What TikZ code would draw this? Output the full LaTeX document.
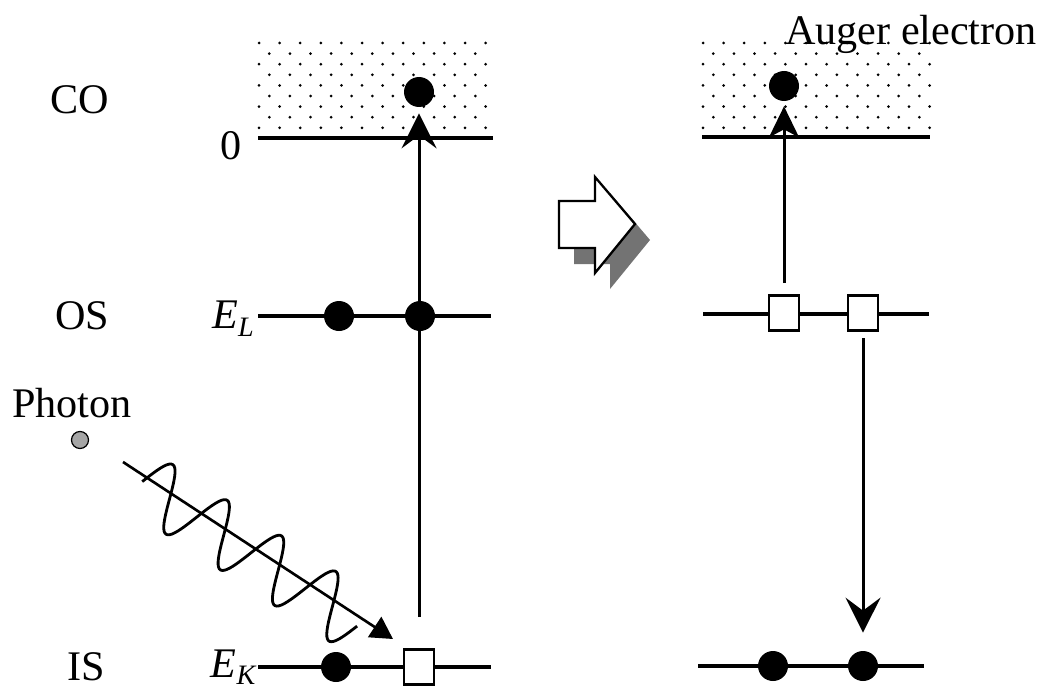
\documentclass[tikz,border=0pt]{standalone}
\usepackage{fontspec}
\setmainfont{Liberation Serif}
\usetikzlibrary{arrows.meta, positioning}

\begin{document}
\begin{tikzpicture}[
    x=0.2mm, y=-0.2mm,
    level/.style={line width=2pt},
    elec/.style={circle,fill=black,inner sep=0pt,minimum size=6mm},
    hole/.style={rectangle,draw=black,line width=1.6pt,fill=white,inner sep=0pt,
                 minimum width=6mm,minimum height=7mm},
    lbl/.style={font=\fontsize{24}{28}\selectfont,inner sep=0pt,anchor=base},
    elbl/.style={font=\fontsize{24}{28}\selectfont,inner sep=0pt,anchor=base east},
    arr/.style={-{Stealth[length=7mm,width=7mm,inset=2.6mm]},line width=1.7pt},
    arrs/.style={-{Stealth[length=6.2mm,width=6mm,inset=1.6mm]},line width=1.7pt}
  ]
  \useasboundingbox (0,0) rectangle (1054,688);

  % continuum (dotted band above 0)
  \foreach \dx in {0,444}{
    \foreach \r in {0,2,4,6,8}
      \foreach \i in {0,...,11}
        \fill (259+\dx+20.6*\i,43+10.6*\r) circle[radius=0.3mm];
    \foreach \r in {1,3,5,7}
      \foreach \i in {0,...,10}
        \fill (269.3+\dx+20.6*\i,43+10.6*\r) circle[radius=0.3mm];
  }

  % levels
  \draw[level] (258,138) -- (493,138);
  \draw[level] (258,316) -- (491,316);
  \draw[level] (258,667) -- (491,667);
  \draw[level] (702,137) -- (930,137);
  \draw[level] (703,314) -- (929,314);
  \draw[level] (698,666) -- (924,666);

  % labels
  \node[lbl] (co) at (80,113) {CO};
  \node[lbl] (zero) at (231,159) {0};
  \node[lbl] (os) at (82,329) {OS};
  \node[lbl] (is) at (86,680) {IS};
  \node[elbl] (el) at (254,328) {\textit{E}\raisebox{-5pt}{\fontsize{16}{16}\selectfont\textit{L}}};
  \node[elbl] (ek) at (257,677) {\textit{E}\raisebox{-4pt}{\fontsize{16}{16}\selectfont\textit{K}}};
  \node[lbl] (auglbl) at (911,45) {Auger electron};
  \node[lbl] (photlbl) at (72,417) {Photon};

  % before
  \node[elec] (coE) at (419,92) {};
  \node[elec] (osA) at (339,316) {};
  \node[elec] (osB) at (420,316) {};
  \node[elec] (isA) at (336,667) {};
  \node[hole] (isH) at (419,667) {};

  % after
  \node[elec] (auger) at (784,86) {};
  \node[hole] (osH1) at (784,313) {};
  \node[hole] (osH2) at (863,313) {};
  \node[elec] (isB) at (773,666) {};
  \node[elec] (isC) at (863,666) {};

  \draw[arr] ([yshift=6.2mm]isH.north) -- ([yshift=-1.2mm]coE.south);
  \draw[arrs] ([yshift=2.2mm]osH1.north) -- ([yshift=-1mm]auger.south);
  \draw[arr] ([yshift=-1.3mm]osH2.south) -- ([yshift=3.6mm]isC.north);

  % photon
  \node[circle,draw,fill=black!35,inner sep=0pt,minimum size=3.4mm,line width=0.7pt] (phot) at (80,440) {};
  \coordinate (pstart) at (123,462);
  \coordinate (phit) at (393,639);
  \draw[line width=1.5pt,-{Triangle[length=4.4mm,width=4.8mm]}] (pstart) -- (phit);
  \draw[line width=1.6pt,smooth,samples=160,domain=23:282,variable=\s]
    plot ({123+0.836*\s+17*sin(5.538*(\s-23))},{469+0.548*\s-25.9*sin(5.538*(\s-23))});

  % block arrow
  \fill[black!55,shift={(15,16)}] (559,201) -- (595,201) -- (595,177) -- (635,224)
    -- (595,273) -- (595,248) -- (559,248) -- cycle;
  \draw[line width=1.3pt,fill=white] (559,201) -- (595,201) -- (595,177) -- (635,224)
    -- (595,273) -- (595,248) -- (559,248) -- cycle;
\end{tikzpicture}
\end{document}
